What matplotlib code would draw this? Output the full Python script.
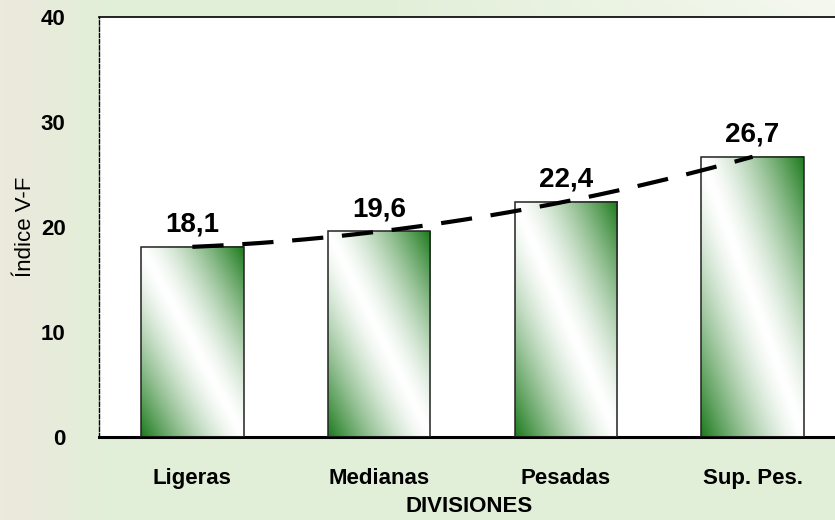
import numpy as np
import matplotlib
matplotlib.use("Agg")
import matplotlib.pyplot as plt
from matplotlib.colors import to_rgb

categories = ["Ligeras", "Medianas", "Pesadas", "Sup. Pes."]
values = [18.1, 19.6, 22.4, 26.7]
value_labels = ["18,1", "19,6", "22,4", "26,7"]
yticks = [0, 10, 20, 30, 40]

plt.rcParams['font.family'] = ['Liberation Sans', 'DejaVu Sans']

W, H = 835, 520
fig = plt.figure(figsize=(W / 100, H / 100), dpi=100)

# Figure background gradient
bg = fig.add_axes([0, 0, 1, 1], zorder=-10)
bg.set_axis_off()
ny, nx = 130, 210
xx, yy = np.meshgrid(np.linspace(0, 1, nx), np.linspace(1, 0, ny))
green = np.array([226, 239, 216]) / 255
beige = np.array([236, 233, 221]) / 255
light = np.array([245, 248, 239]) / 255
img = np.ones((ny, nx, 3)) * green
wl = np.clip(1 - xx / 0.12, 0, 1)[..., None]
img = img * (1 - wl) + beige * wl
wr = (np.clip((xx - 0.45) / 0.55, 0, 1) * np.clip((yy - 0.6) / 0.4, 0, 1))[..., None]
img = img * (1 - wr) + light * wr
bg.imshow(img, extent=(0, 1, 0, 1), aspect='auto')
bg.set_xlim(0, 1)
bg.set_ylim(0, 1)

left, right, top, bottom = 99, 846, 17, 437
ax = fig.add_axes([left / W, 1 - bottom / H, (right - left) / W, (bottom - top) / H])
ax.set_facecolor('white')
x = np.arange(len(categories))
ax.set_xlim(-0.5, 3.5)
ax.set_ylim(0, 40)

bw = 0.55
gcol = np.array(to_rgb('#1c7a1c'))
white = np.ones(3)
n = 200
u, v = np.meshgrid(np.linspace(0, 1, n), np.linspace(1, 0, n))
c = (np.abs(u + v - 1) ** 1.4)[..., None]
grad = white * (1 - c) + gcol * c
for xi, val in zip(x, values):
    ax.imshow(grad, extent=(xi - bw / 2, xi + bw / 2, 0, val), aspect='auto',
              zorder=2, interpolation='bilinear')
ax.bar(x, values, width=bw, facecolor='none', edgecolor='#222222', linewidth=1.1, zorder=3)

# polynomial (order 2) trend line
coef = np.polyfit(x, values, 2)
xt = np.linspace(0, 3, 200)
ax.plot(xt, np.polyval(coef, xt), color='black', linewidth=3, dashes=(7.5, 4.5),
        dash_capstyle='butt', zorder=4)

for xi, val, lab in zip(x, values, value_labels):
    ax.annotate(lab, (xi, val), xytext=(0, 10.8), textcoords='offset points',
                ha='center', va='baseline', fontsize=20, fontweight='bold', zorder=5)

ax.set_xticks(x)
ax.set_xticklabels(categories, fontsize=16, fontweight='bold')
ax.set_yticks(yticks)
ax.set_yticklabels([str(t) for t in yticks], fontsize=16, fontweight='bold')
ax.tick_params(axis='both', length=0)
ax.tick_params(axis='y', pad=24)
ax.tick_params(axis='x', pad=22)

ax.spines['right'].set_visible(False)
ax.spines['top'].set_linewidth(1.2)
ax.spines['bottom'].set_linewidth(2.2)
ax.spines['left'].set_linewidth(1.0)
ax.spines['left'].set_linestyle((0, (3, 1.5)))

fig.text(469 / W, 1 - 507 / H, "DIVISIONES", ha='center', va='center',
         fontsize=16, fontweight='bold')
fig.text(26 / W, 1 - 227 / H, "Índice V-F", ha='center', va='center',
         rotation=90, fontsize=16)

fig.savefig("out.png", dpi=100)
